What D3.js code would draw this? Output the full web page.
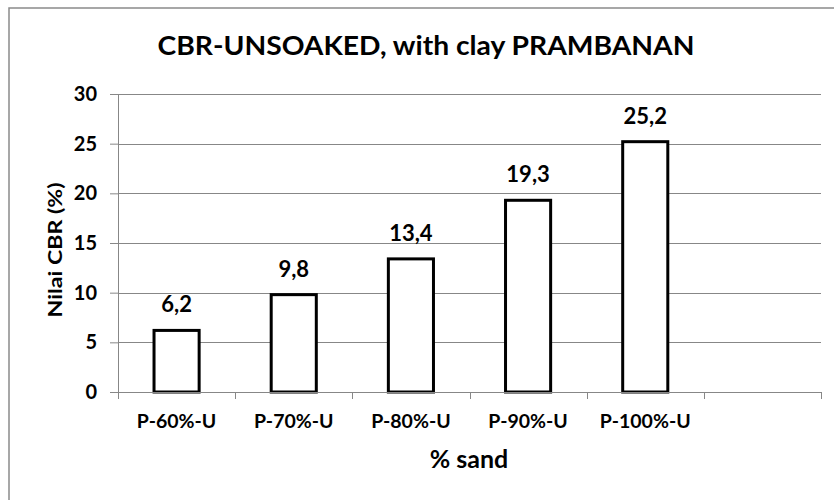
<!DOCTYPE html>
<html>
<head>
<meta charset="utf-8">
<script src="https://cdn.jsdelivr.net/npm/d3@7"></script>
<style>
	body { margin: 0; background: #fff; }
	svg text { font-family: Lato, 'Open Sans', sans-serif; font-weight: 700; fill: #000; }
</style>
</head>
<body>
<div id="chart"></div>
<script>
	// data
	const categories = ['P-60%-U', 'P-70%-U', 'P-80%-U', 'P-90%-U', 'P-100%-U', ''];
	const values = [6.2, 9.8, 13.4, 19.3, 25.2];
	const valueLabels = ['6,2', '9,8', '13,4', '19,3', '25,2'];
	const yTicks = [0, 5, 10, 15, 20, 25, 30];

	const W = 834;
	const H = 500;
	const margin = { top: 94, right: 13, bottom: 108, left: 118 };
	const width = W - margin.left - margin.right;
	const height = H - margin.top - margin.bottom;

	const svg = d3.select('#chart').append('svg')
		.attr('width', W)
		.attr('height', H);

	// chart frame
	svg.append('rect')
		.attr('x', 9)
		.attr('y', 8)
		.attr('width', W + 10)
		.attr('height', H + 10)
		.style('fill', 'none')
		.style('stroke', '#8a8a8a')
		.style('stroke-width', 1.5);

	svg.append('text')
		.attr('x', 426)
		.attr('y', 55)
		.attr('textLength', 537)
		.attr('lengthAdjust', 'spacingAndGlyphs')
		.style('font-size', '26px')
		.style('text-anchor', 'middle')
		.text('CBR-UNSOAKED, with clay PRAMBANAN');

	const chart = svg.append('g')
		.attr('transform', `translate(${margin.left}, ${margin.top})`);

	const x = d3.scaleBand()
		.domain(categories)
		.range([0, width])
		.padding(0);
	const y = d3.scaleLinear()
		.domain([0, 30])
		.range([height, 0]);

	// gridlines
	chart.append('g')
		.selectAll('line')
		.data(yTicks.filter(d => d > 0))
		.join('line')
		.attr('x1', 0)
		.attr('x2', width)
		.attr('y1', d => Math.round(y(d)) + 0.5)
		.attr('y2', d => Math.round(y(d)) + 0.5)
		.style('stroke', '#878787')
		.style('stroke-width', 1);

	// y axis
	const yAxisG = chart.append('g')
		.call(d3.axisLeft(y).tickValues(yTicks).tickSize(8).tickPadding(13));
	yAxisG.select('.domain').remove();
	yAxisG.selectAll('.tick line').style('stroke', '#878787');
	yAxisG.selectAll('.tick text')
		.style('font-size', '20px')
		.style('font-family', 'Lato, sans-serif')
		.style('font-weight', 700)
		.attr('fill', '#000');
	chart.append('line')
		.attr('x1', 0.5).attr('x2', 0.5)
		.attr('y1', 0).attr('y2', height)
		.style('stroke', '#878787');

	// bars
	const barW = x.bandwidth() * 0.385;
	chart.append('g')
		.selectAll('rect')
		.data(values)
		.join('rect')
		.attr('x', (d, i) => x(categories[i]) + (x.bandwidth() - barW) / 2)
		.attr('y', d => y(d))
		.attr('width', barW)
		.attr('height', d => height - y(d))
		.style('fill', '#fff')
		.style('stroke', '#000')
		.style('stroke-width', 3);

	// x axis
	chart.append('line')
		.attr('x1', 0).attr('x2', width)
		.attr('y1', height + 0.5).attr('y2', height + 0.5)
		.style('stroke', '#878787');
	const boundaries = categories.map(c => x(c)).concat([width]);
	chart.append('g')
		.selectAll('line')
		.data(boundaries)
		.join('line')
		.attr('x1', d => Math.round(d) + 0.5)
		.attr('x2', d => Math.round(d) + 0.5)
		.attr('y1', height)
		.attr('y2', height + 7)
		.style('stroke', '#878787');
	chart.append('g')
		.selectAll('text')
		.data(categories)
		.join('text')
		.attr('x', d => x(d) + x.bandwidth() / 2)
		.attr('y', height + 36)
		.style('font-size', '19.5px')
		.style('text-anchor', 'middle')
		.text(d => d);

	// value labels
	chart.append('g')
		.selectAll('text')
		.data(values)
		.join('text')
		.attr('x', (d, i) => x(categories[i]) + x.bandwidth() / 2)
		.attr('y', d => y(d) - 18)
		.style('font-size', '22px')
		.style('text-anchor', 'middle')
		.text((d, i) => valueLabels[i]);

	// axis titles
	svg.append('text')
		.attr('x', 469)
		.attr('y', 468)
		.style('font-size', '25px')
		.style('text-anchor', 'middle')
		.text('% sand');
	svg.append('text')
		.attr('transform', 'translate(62, 250) rotate(-90)')
		.attr('textLength', 135)
		.attr('lengthAdjust', 'spacingAndGlyphs')
		.style('font-size', '19px')
		.style('text-anchor', 'middle')
		.text('Nilai CBR (%)');
</script>
</body>
</html>
